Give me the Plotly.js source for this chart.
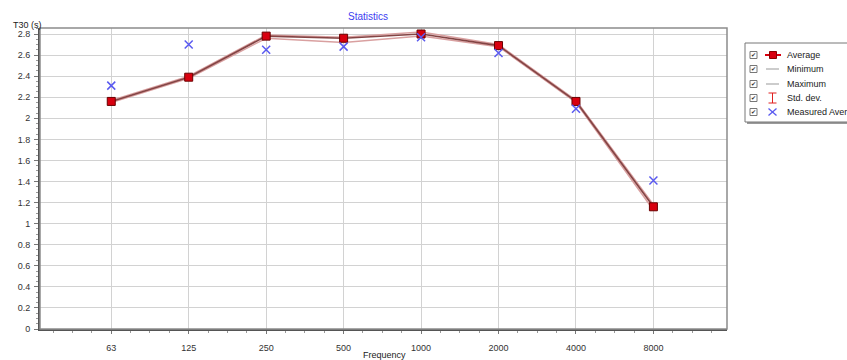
<!DOCTYPE html>
<html>
<head>
<meta charset="utf-8">
<script src="https://cdn.plot.ly/plotly-3.0.1.min.js"></script>
<style>html,body{margin:0;padding:0;background:#fff;}#chart{width:847px;height:360px;}</style>
</head>
<body>
<div id="chart"></div>
<script>
const frequencies = ["63", "125", "250", "500", "1000", "2000", "4000", "8000"];
const averageT30 = [2.16, 2.39, 2.78, 2.76, 2.80, 2.69, 2.16, 1.16];
const minimumT30 = [2.15, 2.38, 2.76, 2.72, 2.78, 2.68, 2.15, 1.13];
const maximumT30 = [2.17, 2.40, 2.79, 2.77, 2.82, 2.70, 2.17, 1.18];
const stdDevT30 = [0.01, 0.01, 0.015, 0.02, 0.02, 0.01, 0.01, 0.02];
const measuredAvgT30 = [2.31, 2.70, 2.65, 2.68, 2.77, 2.62, 2.09, 1.41];
const legendLabels = ["Average", "Minimum", "Maximum", "Std. dev.", "Measured Average"];
const yTickValues = [0, 0.2, 0.4, 0.6, 0.8, 1, 1.2, 1.4, 1.6, 1.8, 2, 2.2, 2.4, 2.6, 2.8];

const idx = frequencies.map((_, i) => i);

const W = 847, H = 360, L = 40, R = 727, T = 28, B = 329;
const px = x => (x - L) / (R - L);
const py = y => (B - y) / (B - T);

const traces = [
  {x: idx, y: minimumT30, mode: 'lines', line: {color: '#d9a0a0', width: 1.5}, name: 'Minimum', showlegend: false, hoverinfo: 'skip'},
  {x: idx, y: maximumT30, mode: 'lines', line: {color: '#d9a0a0', width: 1.5}, name: 'Maximum', showlegend: false, hoverinfo: 'skip'},
  {x: idx, y: averageT30, mode: 'lines+markers', name: 'Average', showlegend: false,
   line: {color: '#844444', width: 1.6},
   marker: {symbol: 'square', size: 8, color: '#d8000f', line: {color: '#6a0000', width: 1}},
   error_y: {type: 'data', array: stdDevT30, color: '#e02020', thickness: 1, width: 3}},
  {x: idx, y: measuredAvgT30, mode: 'markers', name: 'Measured Average', showlegend: false,
   marker: {symbol: 'x-thin-open', size: 8, color: '#5a5af0', line: {color: '#5a5af0', width: 1.5}}}
];

const shapes = [];
const annotations = [];
shapes.push({type: 'rect', xref: 'paper', yref: 'paper', x0: px(747), x1: px(900), y0: py(124), y1: py(45), line: {width: 0}, fillcolor: '#9a9a9a'});
shapes.push({type: 'rect', xref: 'paper', yref: 'paper', x0: px(745), x1: px(900), y0: py(122), y1: py(43), line: {color: '#777', width: 1}, fillcolor: '#ffffff'});
const rowsY = [55, 69, 84, 98, 112];
rowsY.forEach((ry, i) => {
  shapes.push({type: 'rect', xref: 'paper', yref: 'paper', x0: px(750), x1: px(757), y0: py(ry + 3.5), y1: py(ry - 3.5), line: {color: '#777', width: 1}, fillcolor: '#fff'});
  annotations.push({xref: 'paper', yref: 'paper', x: px(753.5), y: py(ry), text: '✔', showarrow: false, font: {size: 6, color: '#333'}, xanchor: 'center', yanchor: 'middle'});
  annotations.push({xref: 'paper', yref: 'paper', x: px(785), y: py(ry), text: legendLabels[i], showarrow: false, font: {size: 9, color: '#222', family: 'Liberation Sans, Arial, sans-serif'}, xanchor: 'left', yanchor: 'middle'});
});
shapes.push({type: 'line', xref: 'paper', yref: 'paper', x0: px(765), x1: px(781), y0: py(55), y1: py(55), line: {color: '#d8000f', width: 2}});
shapes.push({type: 'rect', xref: 'paper', yref: 'paper', x0: px(769.5), x1: px(776.5), y0: py(58.5), y1: py(51.5), line: {color: '#8a0000', width: 1}, fillcolor: '#d8000f'});
shapes.push({type: 'line', xref: 'paper', yref: 'paper', x0: px(766), x1: px(779), y0: py(69), y1: py(69), line: {color: '#999', width: 1}});
shapes.push({type: 'line', xref: 'paper', yref: 'paper', x0: px(766), x1: px(779), y0: py(84), y1: py(84), line: {color: '#999', width: 1}});
shapes.push({type: 'line', xref: 'paper', yref: 'paper', x0: px(772.5), x1: px(772.5), y0: py(93), y1: py(103), line: {color: '#e02020', width: 1}});
shapes.push({type: 'line', xref: 'paper', yref: 'paper', x0: px(768.5), x1: px(776.5), y0: py(93), y1: py(93), line: {color: '#e02020', width: 1}});
shapes.push({type: 'line', xref: 'paper', yref: 'paper', x0: px(768.5), x1: px(776.5), y0: py(103), y1: py(103), line: {color: '#e02020', width: 1}});
shapes.push({type: 'line', xref: 'paper', yref: 'paper', x0: px(768.5), x1: px(776.5), y0: py(108.5), y1: py(115.5), line: {color: '#5a5af0', width: 1.3}});
shapes.push({type: 'line', xref: 'paper', yref: 'paper', x0: px(768.5), x1: px(776.5), y0: py(115.5), y1: py(108.5), line: {color: '#5a5af0', width: 1.3}});
shapes.push({type: 'rect', xref: 'paper', yref: 'paper', x0: 0, x1: 1, y0: 0, y1: 1, line: {color: '#8c8c8c', width: 1.5}, layer: 'above'});

annotations.push({xref: 'paper', yref: 'paper', x: px(27), y: py(25), text: 'T30 (s)', showarrow: false, font: {size: 9, color: '#222', family: 'Liberation Sans, Arial, sans-serif'}, xanchor: 'center', yanchor: 'middle'});
annotations.push({xref: 'paper', yref: 'paper', x: px(384), y: py(355), text: 'Frequency', showarrow: false, font: {size: 9, color: '#222', family: 'Liberation Sans, Arial, sans-serif'}, xanchor: 'center', yanchor: 'middle'});

const layout = {
  width: W, height: H,
  margin: {l: L, r: W - R, t: T, b: H - B, pad: 0},
  paper_bgcolor: '#fff', plot_bgcolor: '#fff',
  showlegend: false,
  font: {family: 'Liberation Sans, Arial, sans-serif', size: 9, color: '#333'},
  title: {text: 'Statistics', x: 368 / W, xref: 'container', xanchor: 'center', y: 1 - 16 / H, yref: 'container', yanchor: 'middle', font: {size: 10, color: '#3d3df0', family: 'Liberation Sans, Arial, sans-serif'}},
  xaxis: {
    type: 'linear', range: [-0.92, 7.95], tickvals: idx, ticktext: frequencies,
    showgrid: true, gridcolor: '#d2d2d2', gridwidth: 1, zeroline: false,
    showline: true, linecolor: '#555', linewidth: 2,
    ticks: 'outside', ticklen: 3, tickcolor: '#777', ticklabelstandoff: 6,
    minor: {dtick: 0.25, tick0: 0, ticks: 'outside', ticklen: 2, tickcolor: '#999', showgrid: false},
    tickfont: {size: 9, color: '#333'}, fixedrange: true
  },
  yaxis: {
    range: [0, 2.857], tickvals: yTickValues, ticktext: yTickValues.map(v => String(v)),
    showgrid: true, gridcolor: '#d2d2d2', gridwidth: 1, zeroline: false,
    showline: true, linecolor: '#555', linewidth: 2,
    ticks: 'outside', ticklen: 4, tickcolor: '#777', ticklabelstandoff: 2,
    minor: {dtick: 0.05, tick0: 0, ticks: 'outside', ticklen: 2, tickcolor: '#999', showgrid: false},
    tickfont: {size: 9, color: '#333'}, fixedrange: true
  },
  shapes: shapes,
  annotations: annotations
};

Plotly.newPlot('chart', traces, layout, {displayModeBar: false, staticPlot: true});
</script>
</body>
</html>
